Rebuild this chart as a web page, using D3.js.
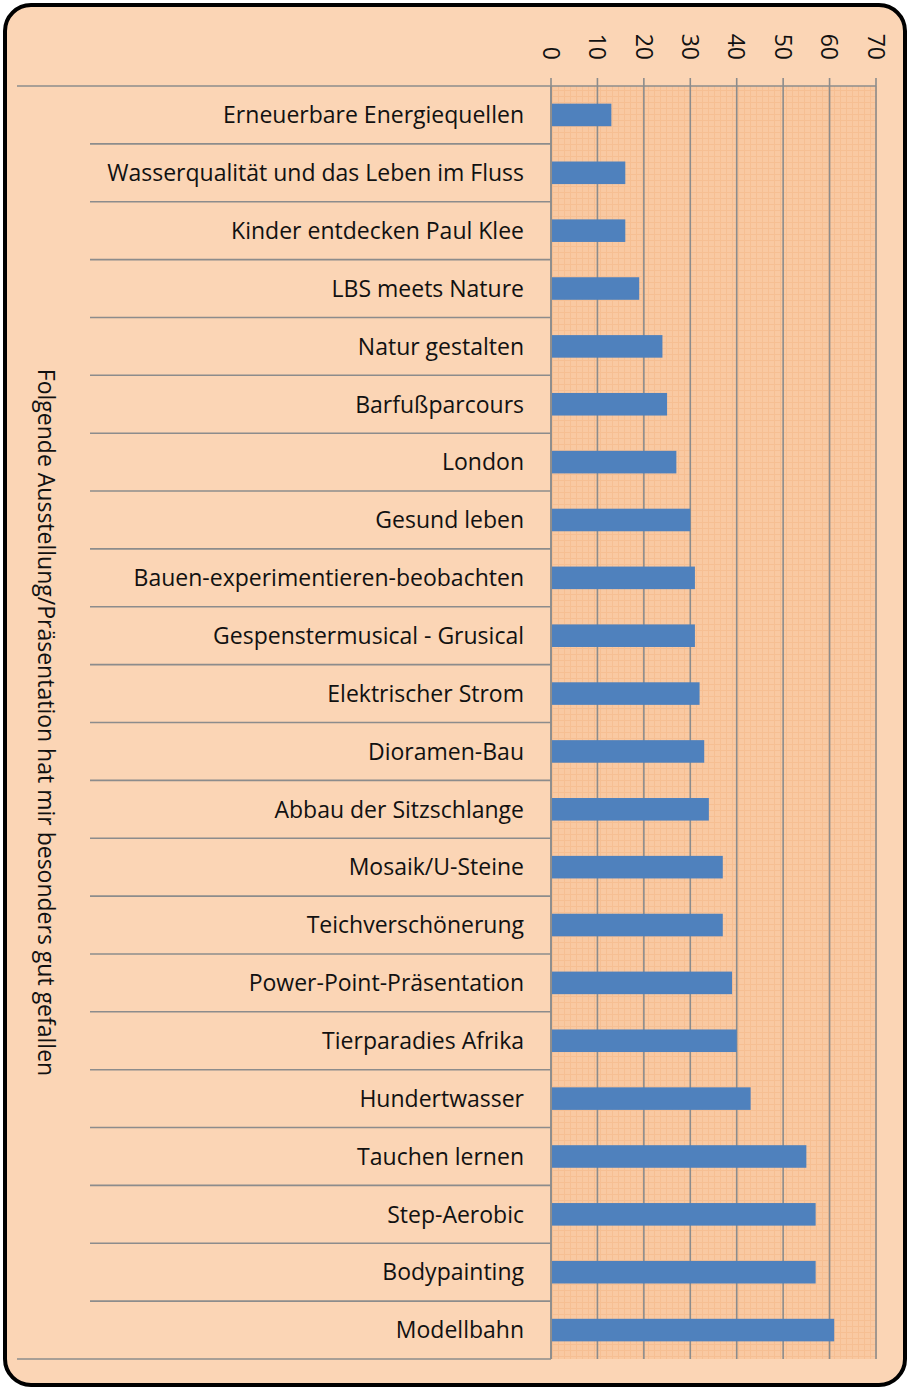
<!DOCTYPE html>
<html>
<head>
<meta charset="utf-8">
<script src="https://cdnjs.cloudflare.com/ajax/libs/d3/7.8.5/d3.min.js"></script>
<style>
  body { margin: 0; background: #fff; }
  text { font-family: "Open Sans", Lato, sans-serif; fill: #111; }
</style>
</head>
<body>
<div id="bar-chart"></div>
<script>
// categories top to bottom
var categories = [
  "Erneuerbare Energiequellen",
  "Wasserqualität und das Leben im Fluss",
  "Kinder entdecken Paul Klee",
  "LBS meets Nature",
  "Natur gestalten",
  "Barfußparcours",
  "London",
  "Gesund leben",
  "Bauen-experimentieren-beobachten",
  "Gespenstermusical - Grusical",
  "Elektrischer Strom",
  "Dioramen-Bau",
  "Abbau der Sitzschlange",
  "Mosaik/U-Steine",
  "Teichverschönerung",
  "Power-Point-Präsentation",
  "Tierparadies Afrika",
  "Hundertwasser",
  "Tauchen lernen",
  "Step-Aerobic",
  "Bodypainting",
  "Modellbahn"
];
var values = [13, 16, 16, 19, 24, 25, 27, 30, 31, 31, 32, 33, 34, 37, 37, 39, 40, 43, 55, 57, 57, 61];
var tickValues = [0, 10, 20, 30, 40, 50, 60, 70];
var axisTitle = "Folgende Ausstellung/Präsentation hat mir besonders gut gefallen";

var width = 910, height = 1390;
var plot = {left: 551, right: 877, top: 86, bottom: 1359};
var fontSize = "23px";

var svg = d3.select("#bar-chart").append("svg")
  .attr("width", width)
  .attr("height", height);

// pattern for plot area fill
var defs = svg.append("defs");
var pat = defs.append("pattern")
  .attr("id", "grid")
  .attr("width", 6).attr("height", 6)
  .attr("patternUnits", "userSpaceOnUse");
pat.append("rect").attr("width", 6).attr("height", 6).attr("fill", "#f9c9a2");
pat.append("path").attr("d", "M0,0.5H6M0.5,0V6")
  .attr("stroke", "#f6bf93").attr("stroke-width", 1);

// outer frame
svg.append("rect")
  .attr("x", 5).attr("y", 5)
  .attr("width", width - 10).attr("height", height - 10)
  .attr("rx", 26).attr("ry", 26)
  .attr("fill", "#fbd5b5")
  .attr("stroke", "#000")
  .attr("stroke-width", 4);

var x = d3.scaleLinear().domain([0, 70]).range([plot.left, plot.right - 1]);
var y = d3.scaleBand().domain(categories).range([plot.top, plot.bottom]).paddingInner(0).paddingOuter(0);

svg.append("rect")
  .attr("x", plot.left).attr("y", plot.top)
  .attr("width", plot.right - plot.left).attr("height", plot.bottom - plot.top)
  .attr("fill", "url(#grid)");

// vertical gridlines + ticks above
svg.append("g").selectAll("line")
  .data(tickValues)
  .enter().append("line")
  .attr("x1", function(d) { return x(d); })
  .attr("x2", function(d) { return x(d); })
  .attr("y1", plot.top - 8)
  .attr("y2", plot.bottom)
  .attr("stroke", "#8c8c8c")
  .attr("stroke-width", 1.6);

// top axis line, extended left
svg.append("line")
  .attr("x1", 17).attr("x2", plot.right - 1)
  .attr("y1", plot.top).attr("y2", plot.top)
  .attr("stroke", "#8c8c8c").attr("stroke-width", 1.6);
svg.append("line")
  .attr("x1", 17).attr("x2", plot.left)
  .attr("y1", plot.bottom).attr("y2", plot.bottom)
  .attr("stroke", "#8c8c8c").attr("stroke-width", 1.6);

// category separators
svg.append("g").selectAll("line")
  .data(categories.slice(1))
  .enter().append("line")
  .attr("x1", 90).attr("x2", plot.left)
  .attr("y1", function(d) { return y(d); })
  .attr("y2", function(d) { return y(d); })
  .attr("stroke", "#8c8c8c").attr("stroke-width", 1.6);

// bars
svg.append("g").selectAll("rect")
  .data(values)
  .enter().append("rect")
  .attr("x", x(0) + 1)
  .attr("y", function(d, i) { return y(categories[i]) + y.bandwidth() * 0.305; })
  .attr("width", function(d) { return x(d) - x(0) - 1; })
  .attr("height", y.bandwidth() * 0.39)
  .attr("fill", "#4f81bd");

// category axis line
svg.append("line")
  .attr("x1", plot.left).attr("x2", plot.left)
  .attr("y1", plot.top).attr("y2", plot.bottom)
  .attr("stroke", "#8c8c8c").attr("stroke-width", 1.6);

// category labels
svg.append("g").selectAll("text")
  .data(categories)
  .enter().append("text")
  .attr("x", 524)
  .attr("y", function(d) { return y(d) + y.bandwidth() / 2; })
  .attr("dy", "0.36em")
  .attr("text-anchor", "end")
  .style("font-size", fontSize)
  .text(function(d) { return d; });

// tick labels rotated
svg.append("g").selectAll("text")
  .data(tickValues)
  .enter().append("text")
  .attr("transform", function(d) { return "translate(" + x(d) + ",60) rotate(90)"; })
  .attr("text-anchor", "end")
  .attr("dy", "0.36em")
  .style("font-size", fontSize)
  .text(function(d) { return d; });

// axis title
svg.append("text")
  .attr("transform", "translate(46," + ((plot.top + plot.bottom) / 2) + ") rotate(90)")
  .attr("text-anchor", "middle")
  .attr("dy", "0.36em")
  .style("font-size", fontSize)
  .text(axisTitle);
</script>
</body>
</html>
